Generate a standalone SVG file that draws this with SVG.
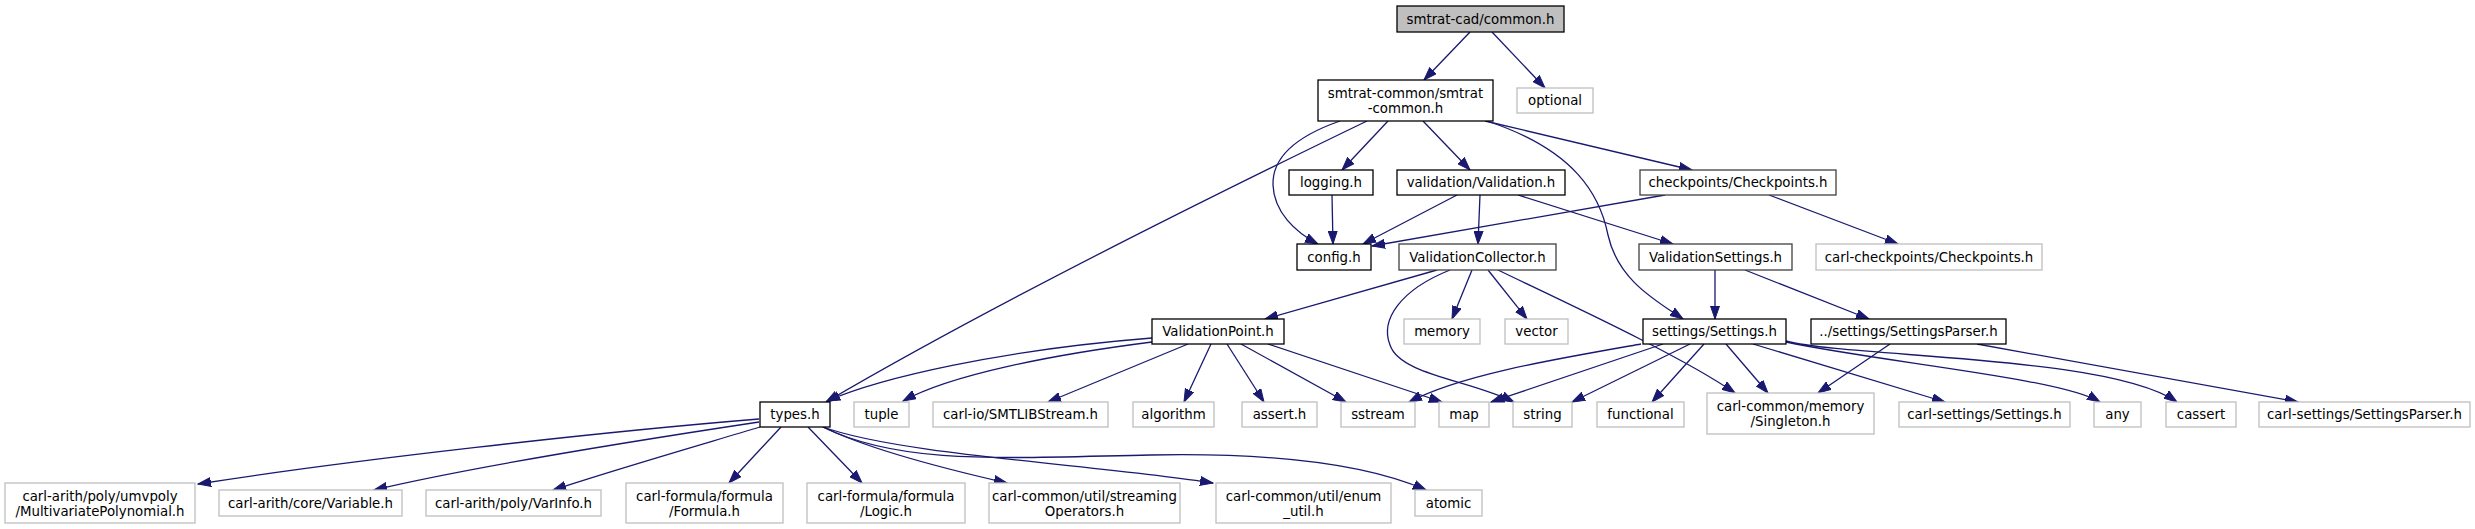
<svg xmlns="http://www.w3.org/2000/svg" width="2475" height="529" viewBox="0 0 2475 529">
<style>
.n rect{fill:#fff;stroke:#000;stroke-width:1.3}
.g rect{fill:#fff;stroke:#bfbfbf;stroke-width:1.3}
.d rect{fill:#fff;stroke:#404040;stroke-width:1.3}
.r rect{fill:#bfbfbf;stroke:#000;stroke-width:1.3}
text{font-family:"DejaVu Sans","Liberation Sans",sans-serif;font-size:13.33px;fill:#000;text-anchor:middle}
#edges path{fill:none;stroke:#191970;stroke-width:1.3;marker-end:url(#a)}
</style>
<defs>
<marker id="a" markerUnits="userSpaceOnUse" markerWidth="14" markerHeight="10" refX="13" refY="5" orient="auto">
<path d="M0,0.5 L13,5 L0,9.5 z" fill="#191970" stroke="#191970" stroke-width="1"/>
</marker>
</defs>
<rect width="2475" height="529" fill="#fff"/>
<g id="edges">
<path d="M1470,32 L1424,80"/>
<path d="M1492,32 L1545,88"/>
<path d="M1388,121 L1342,170"/>
<path d="M1423,121 L1470,170"/>
<path d="M1485,121 L1692,170"/>
<path d="M1340,121 C1300,135 1272,155 1273,185 C1274,212 1295,232 1318,244"/>
<path d="M1367,121 C1220,192 1000,300 826,402"/>
<path d="M1487,121 C1575,150 1600,195 1608,235 C1618,280 1655,300 1683,319"/>
<path d="M1332,195 L1333,244"/>
<path d="M1457,195 L1363,244"/>
<path d="M1480,195 L1478,244"/>
<path d="M1518,195 L1673,244"/>
<path d="M1665,195 L1372,246"/>
<path d="M1769,195 L1898,244"/>
<path d="M1715,270 L1715,319"/>
<path d="M1745,270 L1869,319"/>
<path d="M1437,270 L1265,319"/>
<path d="M1472,270 L1452,319"/>
<path d="M1488,270 L1527,319"/>
<path d="M1450,270 C1400,290 1380,320 1390,345 C1400,375 1470,380 1514,402"/>
<path d="M1498,270 C1560,300 1680,355 1735,393"/>
<path d="M1152,338 C1000,350 880,378 827,401"/>
<path d="M1152,342 C1050,355 950,375 903,401"/>
<path d="M1188,344 L1048,402"/>
<path d="M1211,344 L1184,402"/>
<path d="M1227,344 L1264,402"/>
<path d="M1241,344 L1346,402"/>
<path d="M1268,344 L1442,402"/>
<path d="M1641,344 C1550,360 1460,375 1409,402"/>
<path d="M1663,344 L1491,402"/>
<path d="M1690,344 L1572,402"/>
<path d="M1704,344 L1652,402"/>
<path d="M1726,344 L1768,393"/>
<path d="M1753,344 L1945,402"/>
<path d="M1786,342 C1880,362 2060,378 2100,402"/>
<path d="M1786,341 C1850,358 2110,355 2177,402"/>
<path d="M1890,344 L1818,393"/>
<path d="M1977,344 L2298,402"/>
<path d="M759,419 C600,432 350,460 198,484"/>
<path d="M759,422 C640,440 480,465 374,490"/>
<path d="M760,427 C700,445 620,468 553,490"/>
<path d="M781,427 L729,483"/>
<path d="M808,427 L862,483"/>
<path d="M823,427 C870,450 950,470 1007,483"/>
<path d="M823,427 C900,455 1100,465 1213,483"/>
<path d="M823,427 C900,465 1000,458 1150,455 C1300,452 1380,470 1426,490"/>
</g>
<g id="n1" class="r"><rect x="1397" y="6" width="167" height="26"/><text x="1480.5" y="23.5">smtrat-cad/common.h</text></g>
<g id="n2" class="n"><rect x="1318" y="80" width="175" height="41"/><text x="1405.5" y="98">smtrat-common/smtrat</text><text x="1405.5" y="113">-common.h</text></g>
<g id="n3" class="g"><rect x="1517" y="88" width="76" height="25"/><text x="1555" y="105">optional</text></g>
<g id="n4" class="n"><rect x="1289" y="170" width="84" height="25"/><text x="1331" y="187">logging.h</text></g>
<g id="n5" class="n"><rect x="1397" y="170" width="168" height="25"/><text x="1481" y="187">validation/Validation.h</text></g>
<g id="n6" class="d"><rect x="1640" y="170" width="196" height="25"/><text x="1738" y="187">checkpoints/Checkpoints.h</text></g>
<g id="n7" class="n"><rect x="1297" y="244" width="74" height="26"/><text x="1334" y="261.5">config.h</text></g>
<g id="n8" class="d"><rect x="1399" y="244" width="157" height="26"/><text x="1477.5" y="261.5">ValidationCollector.h</text></g>
<g id="n9" class="d"><rect x="1639" y="244" width="153" height="26"/><text x="1715.5" y="261.5">ValidationSettings.h</text></g>
<g id="n10" class="g"><rect x="1816" y="244" width="226" height="26"/><text x="1929" y="261.5">carl-checkpoints/Checkpoints.h</text></g>
<g id="n11" class="n"><rect x="1152" y="319" width="132" height="25"/><text x="1218" y="336">ValidationPoint.h</text></g>
<g id="n12" class="g"><rect x="1404" y="319" width="76" height="25"/><text x="1442" y="336">memory</text></g>
<g id="n13" class="g"><rect x="1505" y="319" width="63" height="25"/><text x="1536.5" y="336">vector</text></g>
<g id="n14" class="n"><rect x="1643" y="319" width="143" height="25"/><text x="1714.5" y="336">settings/Settings.h</text></g>
<g id="n15" class="n"><rect x="1811" y="319" width="195" height="25"/><text x="1908.5" y="336">../settings/SettingsParser.h</text></g>
<g id="n16" class="n"><rect x="760" y="402" width="70" height="25"/><text x="795" y="419">types.h</text></g>
<g id="n17" class="g"><rect x="854" y="402" width="55" height="25"/><text x="881.5" y="419">tuple</text></g>
<g id="n18" class="g"><rect x="933" y="402" width="175" height="25"/><text x="1020.5" y="419">carl-io/SMTLIBStream.h</text></g>
<g id="n19" class="g"><rect x="1133" y="402" width="81" height="25"/><text x="1173.5" y="419">algorithm</text></g>
<g id="n20" class="g"><rect x="1242" y="402" width="75" height="25"/><text x="1279.5" y="419">assert.h</text></g>
<g id="n21" class="g"><rect x="1341" y="402" width="74" height="25"/><text x="1378" y="419">sstream</text></g>
<g id="n22" class="g"><rect x="1439" y="402" width="50" height="25"/><text x="1464" y="419">map</text></g>
<g id="n23" class="g"><rect x="1513" y="402" width="59" height="25"/><text x="1542.5" y="419">string</text></g>
<g id="n24" class="g"><rect x="1597" y="402" width="87" height="25"/><text x="1640.5" y="419">functional</text></g>
<g id="n25" class="g"><rect x="1707" y="393" width="167" height="41"/><text x="1790.5" y="411">carl-common/memory</text><text x="1790.5" y="426">/Singleton.h</text></g>
<g id="n26" class="g"><rect x="1899" y="402" width="171" height="25"/><text x="1984.5" y="419">carl-settings/Settings.h</text></g>
<g id="n27" class="g"><rect x="2094" y="402" width="47" height="25"/><text x="2117.5" y="419">any</text></g>
<g id="n28" class="g"><rect x="2166" y="402" width="70" height="25"/><text x="2201" y="419">cassert</text></g>
<g id="n29" class="g"><rect x="2259" y="402" width="211" height="25"/><text x="2364.5" y="419">carl-settings/SettingsParser.h</text></g>
<g id="n30" class="g"><rect x="5" y="483" width="190" height="40"/><text x="100" y="501">carl-arith/poly/umvpoly</text><text x="100" y="516">/MultivariatePolynomial.h</text></g>
<g id="n31" class="g"><rect x="219" y="490" width="183" height="26"/><text x="310.5" y="507.5">carl-arith/core/Variable.h</text></g>
<g id="n32" class="g"><rect x="426" y="490" width="175" height="26"/><text x="513.5" y="507.5">carl-arith/poly/VarInfo.h</text></g>
<g id="n33" class="g"><rect x="626" y="483" width="157" height="40"/><text x="704.5" y="501">carl-formula/formula</text><text x="704.5" y="516">/Formula.h</text></g>
<g id="n34" class="g"><rect x="807" y="483" width="158" height="40"/><text x="886" y="501">carl-formula/formula</text><text x="886" y="516">/Logic.h</text></g>
<g id="n35" class="g"><rect x="989" y="483" width="191" height="40"/><text x="1084.5" y="501">carl-common/util/streaming</text><text x="1084.5" y="516">Operators.h</text></g>
<g id="n36" class="g"><rect x="1216" y="483" width="175" height="40"/><text x="1303.5" y="501">carl-common/util/enum</text><text x="1303.5" y="516">_util.h</text></g>
<g id="n37" class="g"><rect x="1415" y="490" width="67" height="26"/><text x="1448.5" y="507.5">atomic</text></g>
</svg>
